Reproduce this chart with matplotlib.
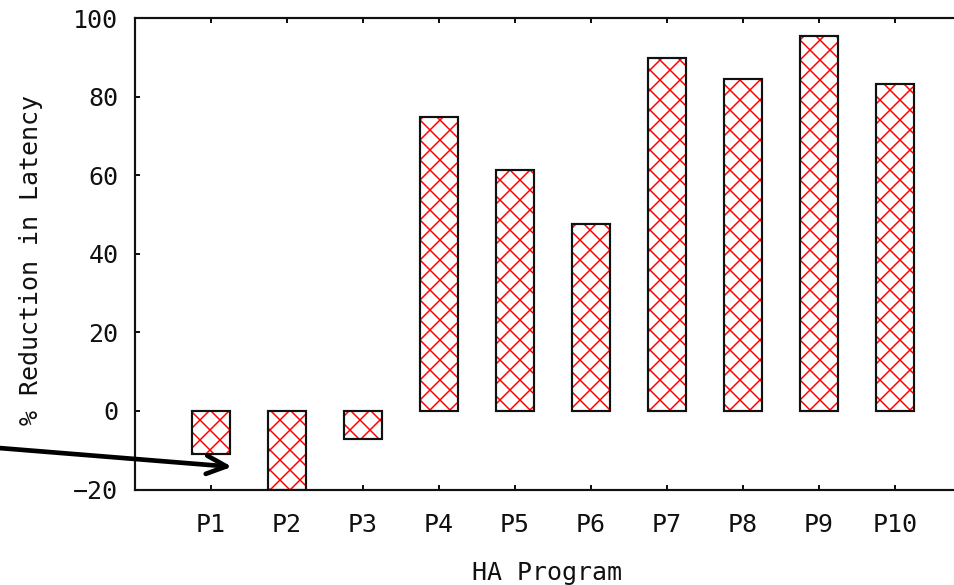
import matplotlib
matplotlib.use("Agg")
import matplotlib.pyplot as plt

programs = ["P1", "P2", "P3", "P4", "P5", "P6", "P7", "P8", "P9", "P10"]
reduction = [-10.9, -20, -7.2, 74.9, 61.2, 47.6, 89.8, 84.5, 95.4, 83.2]
yticks = [-20, 0, 20, 40, 60, 80, 100]

plt.rcParams['font.family'] = ['DejaVu Sans Mono', 'DejaVu Sans']
plt.rcParams['hatch.linewidth'] = 0.9

DPI = 120
FS = 15
fig = plt.figure(figsize=(954 / DPI, 585 / DPI), dpi=DPI)
ax = fig.add_axes([135 / 954, (585 - 489.6) / 585, 836 / 954, 471.6 / 585])

x = list(range(1, len(programs) + 1))
ax.bar(x, reduction, width=0.5, facecolor='white', edgecolor='red',
       hatch='xx', linewidth=0, zorder=2)
ax.bar(x, reduction, width=0.5, fill=False, edgecolor='#111111',
       linewidth=1.3, zorder=3)

ax.set_xlim(0, 11)
ax.set_ylim(-20, 100)
ax.set_xticks(x)
ax.set_xticklabels(programs)
ax.set_yticks(yticks)
ax.tick_params(axis='both', direction='in', length=3, width=1.2,
               labelsize=FS, colors='#111111')
ax.tick_params(axis='x', top=True, pad=14)
ax.tick_params(axis='y', right=True, pad=10)
for s in ax.spines.values():
    s.set_linewidth(1.3)
    s.set_color('#111111')

ax.set_ylabel("% Reduction in Latency", fontsize=FS, color='#111111')
ax.yaxis.label.set_va('center')
ax.yaxis.set_label_coords((31 - 135) / 836, (489.6 - 260) / 471.6)
ax.set_xlabel("HA Program", fontsize=FS, color='#111111')
ax.xaxis.label.set_va('center')
ax.xaxis.set_label_coords((547 - 135) / 836, (489.6 - 573) / 471.6)

ax.annotate("", xy=(1.276, -14.2), xytext=(-1.80, -9.4),
            xycoords='data', textcoords='data', annotation_clip=False,
            arrowprops=dict(arrowstyle='->,head_length=1.2,head_width=0.55',
                            lw=2.8, color='black', shrinkA=0, shrinkB=0,
                            mutation_scale=10))

fig.savefig("out.png", dpi=DPI)
